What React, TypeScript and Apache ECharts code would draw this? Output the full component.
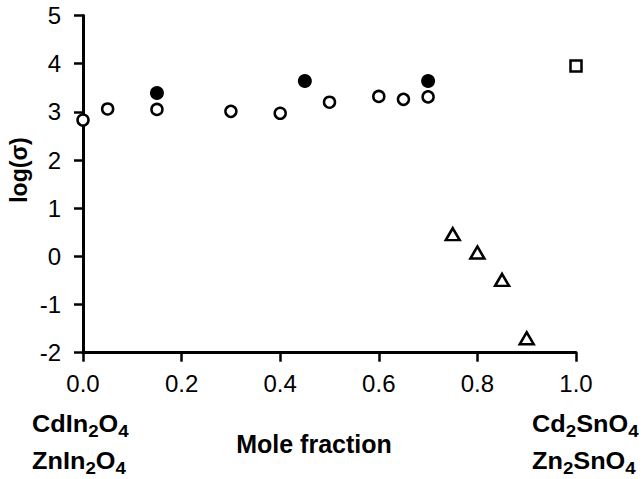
import React, { useEffect, useRef } from "react";
import * as echarts from "echarts";

const xTicks = [0, 0.2, 0.4, 0.6, 0.8, 1.0];
const yTicks = [-2, -1, 0, 1, 2, 3, 4, 5];

const openX = [0, 0.05, 0.15, 0.3, 0.4, 0.5, 0.6, 0.65, 0.7];
const openY = [2.83, 3.06, 3.05, 3.01, 2.97, 3.2, 3.32, 3.26, 3.31];

const filledX = [0.15, 0.45, 0.7];
const filledY = [3.39, 3.64, 3.64];

const squareX = [1.0];
const squareY = [3.95];

const triX = [0.75, 0.8, 0.85, 0.9];
const triY = [0.46, 0.08, -0.49, -1.7];

const leftFormulas: [string, boolean][][] = [
  [["CdIn", false], ["2", true], ["O", false], ["4", true]],
  [["ZnIn", false], ["2", true], ["O", false], ["4", true]],
];
const rightFormulas: [string, boolean][][] = [
  [["Cd", false], ["2", true], ["SnO", false], ["4", true]],
  [["Zn", false], ["2", true], ["SnO", false], ["4", true]],
];

const FONT = "'Liberation Sans', Arial, Helvetica, sans-serif";
const MAIN_FONT = `bold 23px ${FONT}`;
const SUB_FONT = `bold 17px ${FONT}`;

const zip = (xs: number[], ys: number[]) => xs.map((x, i) => [x, ys[i]]);

let ctx: CanvasRenderingContext2D | null = null;
function measure(text: string, font: string) {
  if (!ctx) ctx = document.createElement("canvas").getContext("2d");
  if (!ctx) return text.length * 12;
  ctx.font = font;
  return ctx.measureText(text).width;
}

function formulaGroup(parts: [string, boolean][], x: number, y: number, scaleX: number) {
  let cx = 0;
  const children = parts.map(([t, sub]) => {
    const font = sub ? SUB_FONT : MAIN_FONT;
    const el = {
      type: "text",
      x: cx,
      y: sub ? 7 : 0,
      style: {
        text: t,
        x: 0,
        y: 0,
        textAlign: "left",
        textVerticalAlign: "middle",
        font,
        fill: "#000",
      },
    };
    cx += measure(t, font);
    return el;
  });
  return { type: "group", x, y, scaleX, children };
}

export default function App() {
  const ref = useRef<HTMLDivElement>(null);
  useEffect(() => {
    if (!ref.current) return;
    const chart = echarts.init(ref.current, undefined, { renderer: "svg" });
    const axisLine = { show: true, onZero: false, lineStyle: { color: "#000", width: 3 } };
    const axisTick = { show: true, length: 9, lineStyle: { color: "#000", width: 2.5 } };
    chart.setOption({
      animation: false,
      backgroundColor: "#fff",
      grid: { left: 83, right: 67, top: 15.5, bottom: 126.3, containLabel: false },
      xAxis: {
        type: "value",
        min: xTicks[0],
        max: xTicks[xTicks.length - 1],
        interval: 0.2,
        axisLine,
        axisTick,
        splitLine: { show: false },
        axisLabel: {
          margin: 19,
          fontSize: 24,
          fontFamily: FONT,
          color: "#000",
          formatter: (v: number) => v.toFixed(1),
        },
      },
      yAxis: {
        type: "value",
        min: yTicks[0],
        max: yTicks[yTicks.length - 1],
        interval: 1,
        axisLine,
        axisTick,
        splitLine: { show: false },
        axisLabel: {
          margin: 22,
          fontSize: 24,
          fontFamily: FONT,
          color: "#000",
        },
      },
      series: [
        {
          type: "scatter",
          data: zip(openX, openY),
          symbol: "circle",
          symbolSize: 11,
          clip: false,
          itemStyle: { color: "#fff", borderColor: "#000", borderWidth: 2.5, opacity: 1 },
        },
        {
          type: "scatter",
          data: zip(filledX, filledY),
          symbol: "circle",
          symbolSize: 14,
          clip: false,
          itemStyle: { color: "#000", opacity: 1 },
        },
        {
          type: "scatter",
          data: zip(squareX, squareY),
          symbol: "rect",
          symbolSize: 11,
          clip: false,
          itemStyle: { color: "#fff", borderColor: "#000", borderWidth: 2.5, opacity: 1 },
        },
        {
          type: "scatter",
          data: zip(triX, triY),
          symbol: "triangle",
          symbolSize: [14, 12],
          clip: false,
          itemStyle: { color: "#fff", borderColor: "#000", borderWidth: 2.5, opacity: 1 },
        },
      ],
      graphic: [
        {
          type: "text",
          x: 18.5,
          y: 170,
          rotation: Math.PI / 2,
          style: {
            text: "log(σ)",
            x: 0,
            y: 0,
            textAlign: "center",
            textVerticalAlign: "middle",
            font: `bold 23px ${FONT}`,
            fill: "#000",
          },
        },
        {
          type: "text",
          x: 314,
          y: 444,
          style: {
            text: "Mole fraction",
            x: 0,
            y: 0,
            textAlign: "center",
            textVerticalAlign: "middle",
            font: `bold 25px ${FONT}`,
            fill: "#000",
          },
        },
        formulaGroup(leftFormulas[0], 32, 424, 1.1),
        formulaGroup(leftFormulas[1], 32, 461, 1.1),
        formulaGroup(rightFormulas[0], 532, 424, 1.1),
        formulaGroup(rightFormulas[1], 532, 461, 1.1),
      ],
    });
    return () => chart.dispose();
  }, []);
  return (
    <div
      ref={ref}
      style={{ position: "fixed", left: 0, top: 0, width: 643, height: 479, background: "#fff" }}
    />
  );
}
